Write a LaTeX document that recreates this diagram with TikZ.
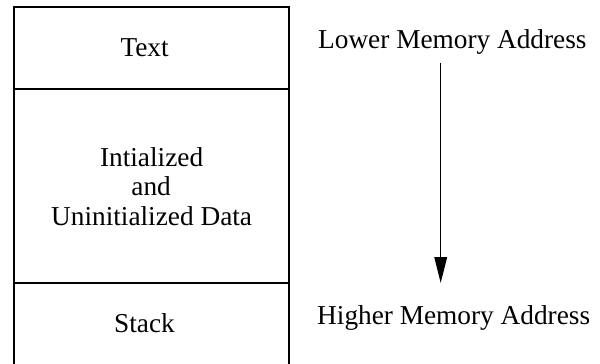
\documentclass[tikz,border=0pt]{standalone}
\usepackage{fontspec}
\setmainfont{Liberation Serif}
\usetikzlibrary{arrows.meta}
\tikzset{
  lbl/.style={anchor=base, inner sep=0pt, font=\fontsize{27.3}{29.5}\selectfont},
  lblw/.style={anchor=base west, inner sep=0pt, font=\fontsize{27.3}{29.5}\selectfont},
  boxline/.style={line width=1.5pt, draw=black},
  flow/.style={line width=1.5pt, -{Triangle[length=26pt,width=12.6pt]}}
}
\begin{document}
\begin{tikzpicture}[x=1pt,y=-1pt]
\useasboundingbox (0,0) rectangle (600,364);
\fill[white] (0,0) rectangle (600,364);
\clip (0,0) rectangle (588,364);
% segments of the memory box
\draw[boxline] (14,380) -- (14,7) -- (289,7) -- (289,380);
\draw[boxline] (14,89) -- (289,89);
\draw[boxline] (14,283) -- (289,283);
% labels
\node[lbl] (text) at (144.6,56) {Text};
\node[lbl] (d1) at (151.6,166) {Intialized};
\node[lbl] (d2) at (151.1,195) {and};
\node[lbl] (d3) at (151.6,225) {Uninitialized Data};
\node[lbl] (stack) at (144.5,332.7) {Stack};
\node[lblw] (lower) at (318,48) {Lower Memory Address};
\node[lblw] (higher) at (317,324) {Higher Memory Address};
\coordinate (astart) at (440.7,62.7);
\coordinate (aend) at (440.7,283);
\draw[flow] (astart) -- (aend);
\end{tikzpicture}
\end{document}
